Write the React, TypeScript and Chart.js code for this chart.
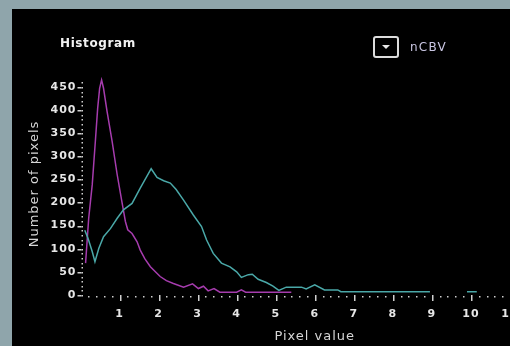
import React, { useEffect, useRef } from 'react';
import { Chart, registerables } from 'chart.js';

Chart.register(...registerables);

// ---- data ----
const cbvX = [0.11, 0.19, 0.30, 0.37, 0.47, 0.59, 0.77, 0.94, 1.10, 1.32, 1.53, 1.81, 1.96, 2.13, 2.30, 2.45, 2.64, 2.89, 3.10, 3.23, 3.40, 3.61, 3.83, 4.00, 4.12, 4.30, 4.40, 4.55, 4.76, 4.93, 5.08, 5.27, 5.66, 5.78, 6.00, 6.25, 6.59, 6.67, 8.95, 9.40, 9.90, 10.15];
const cbvY = [140, 123, 94, 72, 101, 126, 144, 166, 184, 198, 231, 273, 254, 247, 242, 228, 205, 173, 148, 119, 90, 69, 61, 50, 38, 44, 45, 34, 27, 19, 10, 17, 17, 13, 22, 11, 11, 7, 7, null, 7, 7];

const refX = [0.13, 0.21, 0.30, 0.38, 0.44, 0.49, 0.54, 0.59, 0.68, 0.81, 0.94, 1.06, 1.15, 1.21, 1.32, 1.45, 1.53, 1.65, 1.79, 2.04, 2.20, 2.38, 2.64, 2.87, 3.02, 3.15, 3.27, 3.42, 3.57, 4.00, 4.12, 4.23, 5.40];
const refY = [69, 166, 238, 332, 404, 447, 465, 447, 397, 332, 260, 202, 159, 141, 133, 115, 97, 78, 61, 40, 31, 25, 17, 24, 14, 19, 9, 14, 6, 6, 11, 6, 6];

const yTickValues = [0, 50, 100, 150, 200, 250, 300, 350, 400, 450];
const xTickLabels = ['1', '2', '3', '4', '5', '6', '7', '8', '9', '10', '11'];

const TEAL = '#4aa8a8';
const MAGENTA = '#a63cae';
const AXIS = '#cfcfcf';
const FONT = "'DejaVu Sans', sans-serif";

const axisDecor = {
  id: 'axisDecor',
  beforeDraw(chart: any) {
    chart.ctx.letterSpacing = '1px';
  },
  afterDraw(chart: any) {
    const { ctx, chartArea, scales } = chart;
    const xs = scales.x;
    const ys = scales.y;
    ctx.save();
    ctx.letterSpacing = '0px';
    ctx.fillStyle = AXIS;
    const ax = chartArea.left + 1;
    // y axis dotted line (every 10 units)
    for (let v = 0; v <= 460; v += 10) {
      const py = Math.round(ys.getPixelForValue(v));
      ctx.fillRect(ax, py, 1.5, 1.5);
    }
    // y label dashes
    yTickValues.forEach((v) => {
      const py = Math.round(ys.getPixelForValue(v));
      ctx.fillRect(ax - 4, py, 4, 1.5);
    });
    // x axis dots every 0.2, longer marks at integers
    const by = Math.round(chartArea.bottom) + 1;
    for (let i = 1; i <= 60; i++) {
      const px = Math.round(xs.getPixelForValue(i / 5));
      if (i % 5 === 0) {
        ctx.fillRect(px, by - 1, 1.5, 6);
      } else {
        ctx.fillRect(px, by, 1.5, 1.5);
      }
    }
    ctx.restore();
  },
};

export default function App() {
  const ref = useRef<HTMLCanvasElement | null>(null);

  useEffect(() => {
    if (!ref.current) return;
    const toPts = (xs: number[], ys: (number | null)[]) => xs.map((x, i) => ({ x, y: ys[i] }));
    const chart = new Chart(ref.current, {
      type: 'line',
      data: {
        datasets: [
          {
            label: 'nCBV',
            data: toPts(cbvX, cbvY) as any,
            borderColor: TEAL,
            borderWidth: 1.5,
            pointRadius: 0,
            tension: 0,
            spanGaps: false,
          },
          {
            label: 'reference',
            data: toPts(refX, refY) as any,
            borderColor: MAGENTA,
            borderWidth: 1.5,
            pointRadius: 0,
            tension: 0,
          },
        ],
      },
      options: {
        animation: false,
        responsive: false,
        events: [],
        layout: { padding: { left: 0, top: 64, right: 11, bottom: 0 } },
        plugins: {
          legend: { display: false },
          tooltip: { enabled: false },
          title: { display: false },
        },
        scales: {
          x: {
            type: 'linear',
            min: 0,
            max: 12,
            afterFit: (s: any) => {
              s.height = 51;
            },
            grid: { display: false, tickLength: 0 },
            border: { display: false },
            ticks: {
              stepSize: 1,
              padding: 13,
              maxRotation: 0,
              autoSkip: false,
              color: '#e6e6e6',
              font: { family: FONT, size: 11, weight: 'bold' },
              callback: (v: any) => (v >= 1 && v <= xTickLabels.length ? xTickLabels[v - 1] : ''),
            },
            title: {
              display: true,
              text: 'Pixel value',
              color: '#d6d6d6',
              font: { family: FONT, size: 13 },
              padding: { top: 0, bottom: 2 },
            },
          },
          y: {
            min: 0,
            max: 480,
            afterFit: (s: any) => {
              s.width = 68.5;
            },
            grid: { display: false, tickLength: 0 },
            border: { display: false },
            afterBuildTicks: (s: any) => {
              s.ticks = yTickValues.map((v) => ({ value: v }));
            },
            ticks: {
              padding: 4,
              color: '#e6e6e6',
              font: { family: FONT, size: 11, weight: 'bold' },
            },
            title: {
              display: true,
              text: 'Number of pixels',
              color: '#d6d6d6',
              font: { family: FONT, size: 13 },
              padding: { top: 15, bottom: 0 },
            },
          },
        },
      },
      plugins: [axisDecor],
    });
    return () => chart.destroy();
  }, []);

  return (
    <div
      style={{
        position: 'absolute',
        left: 0,
        top: 0,
        width: 510,
        height: 346,
        overflow: 'hidden',
        background: '#8fa5ab',
      }}
    >
      <div
        style={{
          position: 'absolute',
          left: 12,
          top: 9,
          width: 560,
          height: 337,
          background: '#000',
        }}
      >
        <canvas ref={ref} width={550} height={337} style={{ display: 'block' }} />
        <div
          style={{
            position: 'absolute',
            left: 48,
            top: 27,
            fontFamily: FONT,
            fontWeight: 'bold',
            fontSize: 12,
            lineHeight: '14px',
            letterSpacing: '0.6px',
            color: '#f2f2f2',
          }}
        >
          Histogram
        </div>
        <div
          style={{
            position: 'absolute',
            left: 361,
            top: 27,
            width: 22,
            height: 18,
            border: '2px solid #dcdcdc',
            borderRadius: 3,
          }}
        >
          <div
            style={{
              position: 'absolute',
              left: 7,
              top: 7,
              width: 0,
              height: 0,
              borderLeft: '4px solid transparent',
              borderRight: '4px solid transparent',
              borderTop: '4px solid #e8e8e8',
            }}
          />
        </div>
        <div
          style={{
            position: 'absolute',
            left: 398,
            top: 30,
            fontFamily: FONT,
            fontSize: 12,
            lineHeight: '16px',
            letterSpacing: '1.2px',
            color: '#c9c6e2',
          }}
        >
          nCBV
        </div>
      </div>
    </div>
  );
}
